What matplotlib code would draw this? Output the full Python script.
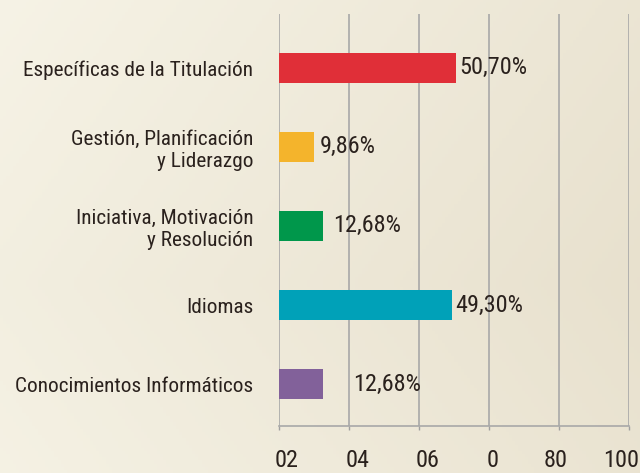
import numpy as np
import matplotlib
matplotlib.use("Agg")
import matplotlib.pyplot as plt
import matplotlib.transforms as mtransforms

plt.rcParams['font.family'] = ['Roboto Condensed', 'DejaVu Sans']

categorias = ['Específicas de la Titulación',
              'Gestión, Planificación\ny Liderazgo',
              'Iniciativa, Motivación\ny Resolución',
              'Idiomas',
              'Conocimientos Informáticos']
porcentajes = [50.70, 9.86, 12.68, 49.30, 12.68]
etiquetas = ['50,70%', '9,86%', '12,68%', '49,30%', '12,68%']
colores = ['#e02f38', '#f4b42c', '#00974b', '#00a1b8', '#82619a']
ticks_x = [0, 20, 40, 60, 80, 100]
ticks_txt = ['02', '04', '06', '0', '80', '100']

# separacion de cada etiqueta respecto al final de su barra (px)
sep_etiqueta = [3, 6, 10, 4, 30]
# desplazamiento horizontal de las etiquetas del eje x (px)
desp_ticks = [8, 9, 9, 4, -3, -8]

texto = '#2a211d'
fig = plt.figure(figsize=(6.4, 4.73), dpi=100)

# fondo beige con degradado suave
bg = fig.add_axes([0, 0, 1, 1], zorder=-10)
xx, yy = np.meshgrid(np.linspace(0, 1, 200), np.linspace(0, 1, 150))
d = np.clip(0.75 * xx + 0.25 * (1 - np.abs(yy - 0.6) * 1.6), 0, 1)
c1 = np.array([0.965, 0.953, 0.902])
c2 = np.array([0.910, 0.882, 0.808])
img = c1[None, None, :] * (1 - d[..., None]) + c2[None, None, :] * d[..., None]
bg.imshow(img, aspect='auto', extent=[0, 1, 0, 1], origin='upper')
bg.axis('off')

ax = fig.add_axes([279 / 640, 47 / 473, 350 / 640, 412 / 473])
ax.patch.set_alpha(0)

y = np.arange(len(categorias))
ax.barh(y, porcentajes, height=0.38, color=colores, zorder=3)

for i, (v, t) in enumerate(zip(porcentajes, etiquetas)):
    off = mtransforms.offset_copy(ax.transData, fig=fig, x=sep_etiqueta[i], y=0, units='dots')
    ax.text(v, i, t, transform=off, va='center', ha='left',
            fontsize=17.5, color=texto, zorder=4)

ax.set_xlim(0, 100)
ax.set_ylim(4.53, -0.68)
ax.set_xticks(ticks_x)
ax.set_xticklabels([])
ax.tick_params(axis='x', length=3, width=1, color='#a0a0a0')

# etiquetas del eje x dibujadas a mano para poder desplazarlas
base = ax.get_xaxis_transform()
for xv, t, dx in zip(ticks_x, ticks_txt, desp_ticks):
    tr = mtransforms.offset_copy(base, fig=fig, x=dx, y=-41, units='dots')
    ax.text(xv, 0, t, transform=tr, ha='center', va='baseline',
            fontsize=17.5, color=texto, clip_on=False)

ax.set_yticks(y)
ax.set_yticklabels(categorias, fontsize=15.3, color=texto, linespacing=1.2)
ax.tick_params(axis='y', length=0, pad=18.5)

ax.grid(axis='x', color='#a8a8a8', linewidth=1.2, zorder=1)
for s in ['top', 'right', 'left']:
    ax.spines[s].set_visible(False)
ax.spines['bottom'].set_color('#a8a8a8')
ax.spines['bottom'].set_linewidth(1.2)

fig.savefig('out.png', dpi=100)
